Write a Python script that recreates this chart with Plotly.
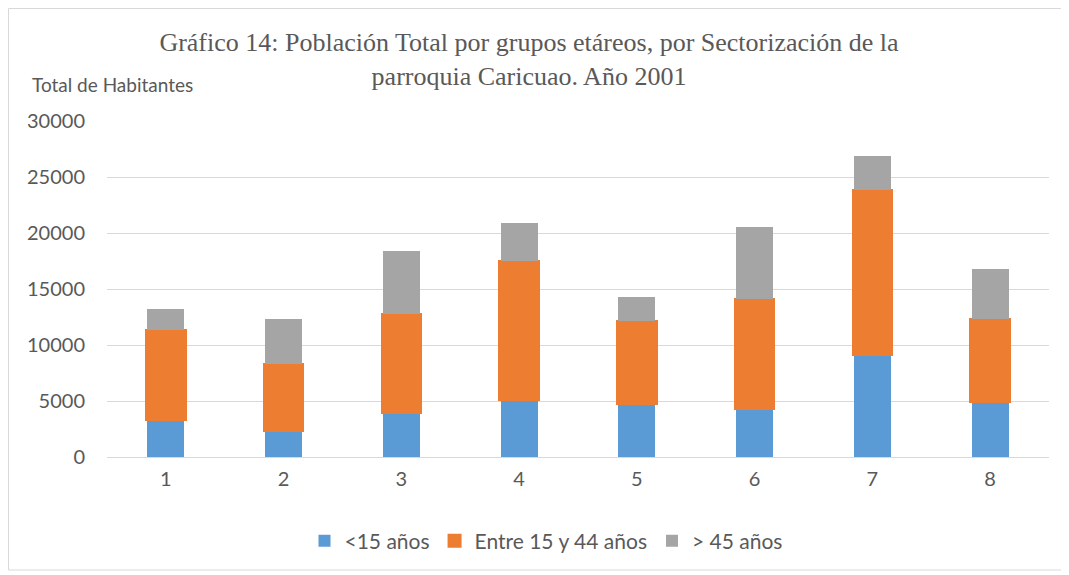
import plotly.graph_objects as go

categories = ["1", "2", "3", "4", "5", "6", "7", "8"]
menores_15 = [3300, 2350, 3900, 5100, 4700, 4300, 9100, 4900]
entre_15_44 = [8000, 5950, 8900, 12400, 7400, 9800, 14700, 7400]
mayores_45 = [1900, 4000, 5600, 3400, 2200, 6400, 3100, 4500]
series_names = ["<15 años", "Entre 15 y 44 años", "> 45 años"]
y_ticks = [0, 5000, 10000, 15000, 20000, 25000, 30000]

W, H = 1069, 575
OFF = 8  # page body margin offset
L, R, T, B = 99, 28, 113, 126
PW, PH = W - L - R, H - T - B


def px(x):  # page x -> paper
    return (x - OFF - L) / PW


def py(y):  # page y -> paper
    return (H - B - (y - OFF)) / PH


fig = go.Figure()
fig.add_trace(go.Bar(x=categories, y=menores_15, name=series_names[0],
                     marker=dict(color="#5B9BD5", line=dict(width=0)), width=0.314))
fig.add_trace(go.Bar(x=categories, y=entre_15_44, name=series_names[1],
                     marker=dict(color="#ED7D31", line=dict(color="#ED7D31", width=2)), width=0.335))
fig.add_trace(go.Bar(x=categories, y=mayores_45, name=series_names[2],
                     marker=dict(color="#A5A5A5", line=dict(width=0)), width=0.314))

font_sans = "Lato, 'Open Sans', sans-serif"
fig.update_layout(
    width=W, height=H,
    barmode="stack",
    plot_bgcolor="white", paper_bgcolor="white",
    margin=dict(l=L, r=R, t=T, b=B, autoexpand=False),
    title=dict(text="Gráfico 14: Población Total por grupos etáreos, por Sectorización de la<br>parroquia Caricuao. Año 2001",
               x=(529 - OFF) / W, xanchor="center", xref="container",
               y=1 - 43 / H, yanchor="middle", yref="container",
               font=dict(family="'Liberation Serif', 'Times New Roman', serif", size=26, color="#595959")),
    xaxis=dict(showgrid=False, showline=False, ticks="", ticklabelstandoff=8,
               tickfont=dict(family=font_sans, size=20, color="#595959")),
    yaxis=dict(range=[0, 30000], tickvals=y_ticks, tickformat="d", showgrid=True,
               gridcolor="#D9D9D9", gridwidth=1,
               zeroline=True, zerolinecolor="#D9D9D9", zerolinewidth=1, showline=False, ticks="",
               ticklabelstandoff=21,
               tickfont=dict(family=font_sans, size=20, color="#595959")),
    legend=dict(orientation="h", x=px(546), xanchor="center",
                y=py(541), yanchor="middle",
                font=dict(family=font_sans, size=21, color="#595959"), traceorder="normal",
                itemwidth=30),
    annotations=[dict(text="Total de Habitantes", xref="paper", yref="paper",
                      x=px(30), xanchor="left",
                      y=py(85), yanchor="middle", showarrow=False,
                      font=dict(family=font_sans, size=19, color="#595959"))],
    shapes=[dict(type="rect", xref="paper", yref="paper",
                 x0=(0.5 - L) / PW, x1=(W - 14 - L) / PW,
                 y0=(H - B - (H - 13)) / PH, y1=(H - B - 0.5) / PH,
                 line=dict(color="#D9D9D9", width=1), layer="below")],
)

fig.write_html("out.html")
